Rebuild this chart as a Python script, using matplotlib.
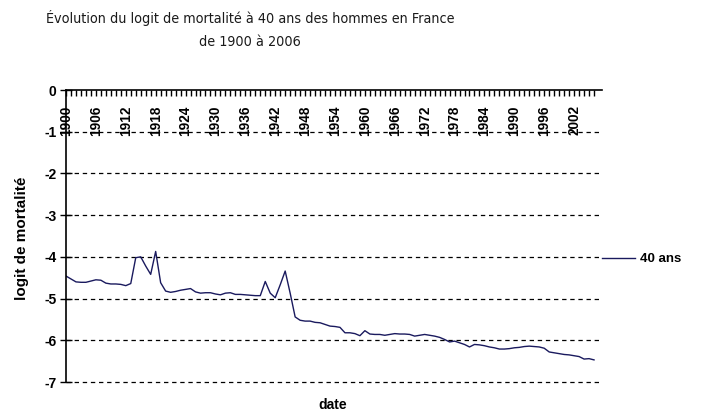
import numpy as np
import matplotlib
matplotlib.use('Agg')
import matplotlib.pyplot as plt

plt.rcParams['font.family'] = ['Liberation Sans', 'DejaVu Sans']

# logit de mortalité à 40 ans, hommes, France
years = np.arange(1900, 2007)
logit_40 = [
    -4.46, -4.53, -4.60, -4.61, -4.61, -4.58, -4.55, -4.56, -4.63, -4.65,
    -4.65, -4.66, -4.69, -4.64, -4.02, -4.00, -4.22, -4.42, -3.87, -4.62,
    -4.82, -4.85, -4.83, -4.80, -4.78, -4.76, -4.84, -4.87, -4.86, -4.86,
    -4.89, -4.91, -4.87, -4.86, -4.90, -4.90, -4.91, -4.92, -4.93, -4.93,
    -4.59, -4.87, -4.98, -4.67, -4.34, -4.87, -5.44, -5.52, -5.54, -5.54,
    -5.57, -5.58, -5.62, -5.66, -5.67, -5.69, -5.82, -5.82, -5.84, -5.89,
    -5.77, -5.85, -5.86, -5.86, -5.88, -5.86, -5.84, -5.85, -5.85, -5.86,
    -5.90, -5.88, -5.86, -5.88, -5.90, -5.93, -5.98, -6.04, -6.02, -6.06,
    -6.10, -6.16, -6.10, -6.11, -6.13, -6.16, -6.18, -6.21, -6.21, -6.20,
    -6.18, -6.17, -6.15, -6.14, -6.15, -6.16, -6.19, -6.28, -6.30, -6.32,
    -6.34, -6.35, -6.37, -6.39, -6.45, -6.44, -6.47,
]
label_years = np.arange(1900, 2007, 6)
y_ticks = np.arange(0, -8, -1)

fig = plt.figure(figsize=(7.17, 4.17), dpi=100)
ax = fig.add_axes([66 / 717, 1 - 382 / 417, 536 / 717, 292 / 417])

ax.plot(years, logit_40, color='#1a1a5e', lw=1.0, label='40 ans')

ax.set_xlim(1900, 2007.6)
ax.set_ylim(-7, 0)

# axe des dates en haut (y = 0), étiquettes sous l'axe
ax.spines['bottom'].set_position(('data', 0))
ax.spines['top'].set_visible(False)
ax.spines['right'].set_visible(False)
ax.spines['bottom'].set_linewidth(1.2)
ax.spines['left'].set_linewidth(1.2)

ax.set_xticks(label_years)
ax.set_xticklabels([str(y) for y in label_years], rotation=90,
                   fontsize=9.8, fontweight='bold', va='top', fontstretch='condensed')
ax.set_xticks(years, minor=True)
ax.tick_params(axis='x', which='both', direction='out', length=4, width=1, pad=7)

ax.set_yticks(y_ticks)
ax.set_yticklabels([str(v) for v in y_ticks], fontsize=10, fontweight='bold')
ax.tick_params(axis='y', direction='inout', length=8, width=1, pad=3)

for v in y_ticks[1:]:
    ax.axhline(v, color='black', lw=0.9, ls=(0, (3.5, 3)), zorder=0, clip_on=False)

fig.text(250 / 717, 1 - 29.5 / 417,
         'Évolution du logit de mortalité à 40 ans des hommes en France\nde 1900 à 2006',
         ha='center', va='center', fontsize=10.3, linespacing=1.8, color='#1a1a1a',
         family=['DejaVu Sans'], fontstretch='condensed')
fig.text(22 / 717, 1 - 238 / 417, 'logit de mortalité', rotation=90,
         ha='center', va='center', fontsize=11, fontweight='bold')
fig.text(333 / 717, 1 - 405 / 417, 'date', ha='center', va='center',
         fontsize=10, fontweight='bold')

fig.legend(loc='center left', bbox_to_anchor=(602 / 717, 1 - 259 / 417),
           frameon=False, borderpad=0, borderaxespad=0, handlelength=2.5,
           handletextpad=0.4, prop={'size': 9.5, 'weight': 'bold'})

fig.savefig('out.png', dpi=100, facecolor='white')
